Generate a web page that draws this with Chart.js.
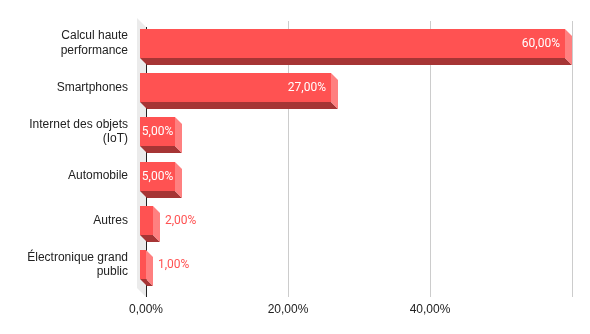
<!DOCTYPE html>
<html>
<head>
<meta charset="utf-8">
<script src="https://cdn.jsdelivr.net/npm/chart.js@4.4.1/dist/chart.umd.min.js"></script>
<style>
  html, body { margin: 0; padding: 0; background: #fff; }
  #wrap { width: 590px; height: 334px; }
</style>
</head>
<body>
<div id="wrap"><canvas id="chart" width="590" height="334"></canvas></div>
<script>
const categories = [
  ["Calcul haute", "performance"],
  "Smartphones",
  ["Internet des objets", "(IoT)"],
  "Automobile",
  "Autres",
  ["Électronique grand", "public"],
];
const shares = [60, 27, 5, 5, 2, 1];
const xTickStep = 20;
const xMax = 60;

const DEPTH = 7; // bar extrusion
const WALL = 9; // left wall depth
const colors = {
  front: "#ff5252",
  side: "#ff8080",
  bottom: "#a63535",
  wall: "#ebebeb",
  grid: "#cccccc",
  axis: "#222222",
};

const fmt = (v) => v.toFixed(2).replace(".", ",") + "%";

const bars3d = {
  id: "bars3d",
  beforeDatasetsDraw(chart) {
    const { ctx, chartArea, scales } = chart;
    const x0 = scales.x.getPixelForValue(0);
    const top = Math.round(chartArea.top) + 6;
    const bottom = Math.round(chartArea.bottom) + 10;
    ctx.save();
    ctx.fillStyle = colors.wall;
    ctx.beginPath();
    ctx.moveTo(x0 - WALL, top - WALL);
    ctx.lineTo(x0, top);
    ctx.lineTo(x0, bottom);
    ctx.lineTo(x0 - WALL, bottom - WALL);
    ctx.closePath();
    ctx.fill();
    ctx.strokeStyle = colors.axis;
    ctx.lineWidth = 1;
    ctx.beginPath();
    ctx.moveTo(Math.round(x0) + 0.5, top);
    ctx.lineTo(Math.round(x0) + 0.5, bottom);
    ctx.stroke();
    ctx.restore();
  },
  afterDatasetsDraw(chart) {
    const { ctx } = chart;
    const meta = chart.getDatasetMeta(0);
    ctx.save();
    meta.data.forEach((bar, i) => {
      const p = bar.getProps(["x", "y", "base", "height"], true);
      const fx0 = Math.round(p.base) - DEPTH;
      const fx1 = Math.round(p.x) - DEPTH;
      const fy0 = Math.round(p.y - p.height / 2);
      const fy1 = Math.round(p.y + p.height / 2);

      // bottom face
      ctx.fillStyle = colors.bottom;
      ctx.beginPath();
      ctx.moveTo(fx0, fy1);
      ctx.lineTo(fx1, fy1);
      ctx.lineTo(fx1 + DEPTH, fy1 + DEPTH);
      ctx.lineTo(fx0 + DEPTH, fy1 + DEPTH);
      ctx.closePath();
      ctx.fill();

      // side face
      ctx.fillStyle = colors.side;
      ctx.beginPath();
      ctx.moveTo(fx1, fy0);
      ctx.lineTo(fx1 + DEPTH, fy0 + DEPTH);
      ctx.lineTo(fx1 + DEPTH, fy1 + DEPTH);
      ctx.lineTo(fx1, fy1);
      ctx.closePath();
      ctx.fill();

      // front face
      ctx.fillStyle = colors.front;
      ctx.fillRect(fx0, fy0, fx1 - fx0, fy1 - fy0);

      // value label
      const text = fmt(shares[i]);
      ctx.font = "12px Roboto";
      ctx.textBaseline = "middle";
      const tw = ctx.measureText(text).width;
      const fw = fx1 - fx0;
      const ty = p.y + 0.5;
      if (tw + 10 <= fw) {
        ctx.fillStyle = "#ffffff";
        ctx.textAlign = "right";
        ctx.fillText(text, fx1 - 5, ty);
      } else if (tw + 2 <= fw) {
        ctx.fillStyle = "#ffffff";
        ctx.textAlign = "center";
        ctx.fillText(text, (fx0 + fx1) / 2, ty);
      } else {
        ctx.fillStyle = colors.front;
        ctx.textAlign = "left";
        ctx.fillText(text, fx1 + DEPTH + 5, ty);
      }
    });
    ctx.restore();
  },
};

Chart.defaults.font.family = "'Liberation Sans', Arial, sans-serif";
Chart.defaults.font.size = 12;
Chart.defaults.color = "#222222";

const noPadding = (s) => {
  s.paddingTop = 0;
  s.paddingBottom = 0;
  s.paddingLeft = 0;
  s.paddingRight = 0;
};

new Chart(document.getElementById("chart"), {
  type: "bar",
  data: {
    labels: categories,
    datasets: [
      {
        data: shares,
        backgroundColor: "rgba(0,0,0,0)",
        borderWidth: 0,
        barPercentage: 1,
        categoryPercentage: 0.656,
      },
    ],
  },
  options: {
    indexAxis: "y",
    responsive: false,
    animation: false,
    devicePixelRatio: 1,
    layout: { padding: { top: 21, right: 18, left: 0, bottom: 0 } },
    plugins: {
      legend: { display: false },
      tooltip: { enabled: false },
    },
    scales: {
      x: {
        min: 0,
        max: xMax,
        afterFit: (s) => {
          s.height = 47;
          noPadding(s);
        },
        border: { display: false },
        grid: {
          color: (c) => (c.tick && c.tick.value === 0 ? "rgba(0,0,0,0)" : colors.grid),
          drawTicks: true,
          tickLength: 10,
        },
        ticks: {
          stepSize: xTickStep,
          padding: 5,
          maxRotation: 0,
          callback: (v) => (v === xMax ? "" : fmt(v)),
        },
      },
      y: {
        afterFit: (s) => {
          s.width = 146;
          noPadding(s);
        },
        border: { display: false },
        grid: { display: false, drawTicks: false },
        ticks: { padding: 18, autoSkip: false },
      },
    },
  },
  plugins: [bars3d],
});
</script>
</body>
</html>
